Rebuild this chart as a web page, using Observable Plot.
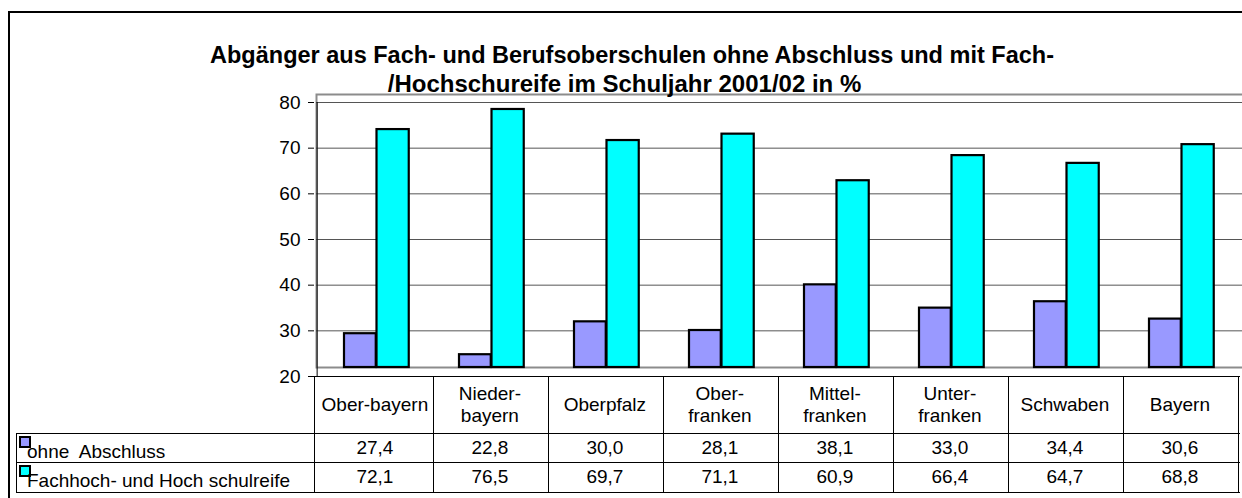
<!DOCTYPE html>
<html><head><meta charset="utf-8">
<script src="https://cdn.jsdelivr.net/npm/d3@7"></script>
<script src="https://cdn.jsdelivr.net/npm/@observablehq/plot@0.6"></script>
<style>
body{margin:0;background:#fff;}
#page{position:relative;width:1242px;height:498px;overflow:hidden;font-family:"Liberation Sans",Arial,sans-serif;color:#000;background:#fff;}
#page svg{position:absolute;left:0;top:0;}
.abs{position:absolute;white-space:pre;}
.title{font-weight:bold;font-size:23.5px;line-height:28px;text-align:center;}
.cell{font-size:19px;text-align:center;display:flex;align-items:center;justify-content:center;white-space:pre-line;line-height:22px;}
.hl{position:absolute;height:0;border-top:1px solid #000;}
.vl{position:absolute;width:0;border-left:1px solid #000;}
.key{position:absolute;width:8px;height:8px;border:2px solid #000;}
</style></head><body><div id="page"></div>
<script>
// ---- data ----
const titleLines = ["Abgänger aus Fach- und Berufsoberschulen ohne Abschluss und mit Fach-", "/Hochschureife im Schuljahr 2001/02 in %"];
const categories = ["Ober-bayern","Nieder-\nbayern","Oberpfalz","Ober-\nfranken","Mittel-\nfranken","Unter-\nfranken","Schwaben","Bayern"];
const seriesNames = ["ohne  Abschluss","Fachhoch- und Hoch schulreife"];
const ohneAbschluss = [27.4,22.8,30.0,28.1,38.1,33.0,34.4,30.6];
const fachHochschulreife = [72.1,76.5,69.7,71.1,60.9,66.4,64.7,68.8];
const yTicks = [20,30,40,50,60,70,80];
const colors = ["#9999FF","#00FFFF"];

const page = document.getElementById("page");
const W = 1242, H = 498;
const mL = 314, mR = 2, mT = 102, mB = 122;
const bw = (W - mL - mR) / categories.length;

const rowsA = categories.map((c,i)=>({cat:c, v:ohneAbschluss[i]}));
const rowsB = categories.map((c,i)=>({cat:c, v:fachHochschulreife[i]}));

const chart = Plot.plot({
  width: W, height: H,
  marginLeft: mL, marginRight: mR, marginTop: mT, marginBottom: mB,
  style: {fontFamily: '"Liberation Sans", Arial, sans-serif', fontSize: "19px", background: "transparent", overflow: "hidden", color: "#000"},
  x: {type: "band", domain: categories, padding: 0, axis: null},
  y: {domain: [20, 80], axis: null},
  marks: [
    Plot.frame({stroke: "#8c8c8c", strokeWidth: 2, insetLeft: 2, insetTop: -8, insetBottom: 9, insetRight: -6}),
    Plot.ruleY(yTicks.filter(t => t > 20), {stroke: "#555", strokeWidth: 1, insetLeft: 2, insetRight: -4}),
    Plot.barY(rowsA, {x: "cat", y1: () => 20, y2: "v", fill: colors[0], stroke: "#000", strokeWidth: 2.2,
      insetLeft: 27, insetRight: bw - 59.5, dy: -9}),
    Plot.barY(rowsB, {x: "cat", y1: () => 20, y2: "v", fill: colors[1], stroke: "#000", strokeWidth: 2.2,
      insetLeft: 59.5, insetRight: bw - 92.5, dy: -9}),
    Plot.ruleY([20], {stroke: "#000", strokeWidth: 1}),
    Plot.ruleX([categories[0]], {x: d => d, y1: () => 20, y2: () => 80, dx: -bw / 2, stroke: "#000", strokeWidth: 1}),
    Plot.axisY(yTicks, {tickSize: 6, tickPadding: 8, label: null, fontSize: 19})
  ]
});
page.appendChild(chart);

function add(cls, styles, text) {
  const d = document.createElement("div");
  d.className = cls;
  Object.assign(d.style, styles);
  if (text !== undefined) d.textContent = text;
  page.appendChild(d);
  return d;
}

// outer frame
add("abs", {left: "8px", top: "11px", width: "1300px", height: "600px", borderLeft: "2px solid #000", borderTop: "2px solid #000"});

// title
add("abs title", {left: "0px", width: "1264px", top: "41px"}, titleLines[0]);
add("abs title", {left: "0px", width: "1249px", top: "70px", fontSize: "24px"}, titleLines[1]);

// data table, aligned on the plot's x scale
const xs = chart.scale("x");
const colX = c => xs.apply(c);
const tL = 16, tR = W - mR;
const yHead = 376, yR1 = 433, yR2 = 462, yEnd = 492;

add("hl", {left: tL + "px", width: (tR - tL) + "px", top: yR1 + "px"});
add("hl", {left: tL + "px", width: (tR - tL) + "px", top: yR2 + "px"});
add("hl", {left: tL + "px", width: (tR - tL) + "px", top: yEnd + "px"});
add("vl", {left: tL + "px", top: yR1 + "px", height: (yEnd - yR1) + "px"});
add("vl", {left: mL + "px", top: yHead + "px", height: (yEnd - yHead) + "px"});
categories.forEach((c, i) => {
  const x0 = colX(c);
  add("vl", {left: (x0 + bw) + "px", top: yHead + "px", height: (yEnd - yHead) + "px"});
  add("abs cell", {left: x0 + "px", width: bw + "px", top: yHead + "px", height: (yR1 - yHead) + "px"}, c);
  add("abs cell", {left: x0 + "px", width: bw + "px", top: yR1 + "px", height: (yR2 - yR1) + "px"}, ohneAbschluss[i].toFixed(1).replace(".", ","));
  add("abs cell", {left: x0 + "px", width: bw + "px", top: yR2 + "px", height: (yEnd - yR2) + "px"}, fachHochschulreife[i].toFixed(1).replace(".", ","));
});

// legend keys + names
[[yR1, 0], [yR2, 1]].forEach(([y0, s]) => {
  add("key", {left: (tL + 3) + "px", top: (y0 + 3) + "px", background: colors[s]});
  add("abs", {left: (tL + 11) + "px", top: (y0 + 9) + "px", fontSize: "19px", lineHeight: "19px"}, seriesNames[s]);
});
</script>
</body></html>
